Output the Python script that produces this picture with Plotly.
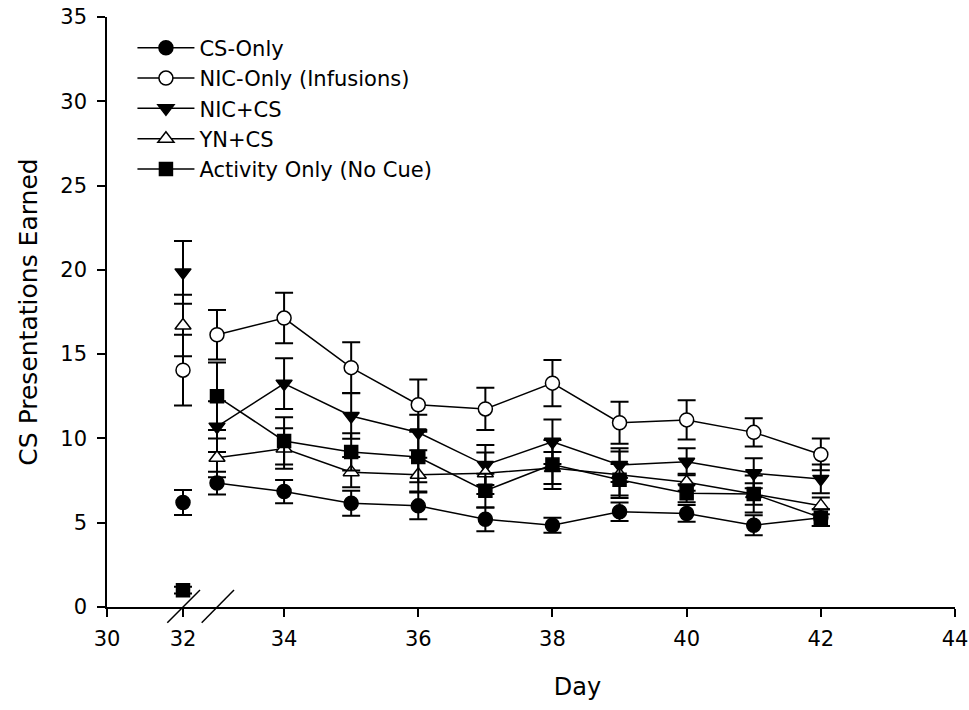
import plotly.graph_objects as go

FONT = "DejaVu Sans, Liberation Sans, Arial, sans-serif"

# ---------------- data ----------------
series_names = ["CS-Only", "NIC-Only (Infusions)", "NIC+CS", "YN+CS", "Activity Only (No Cue)"]

baseline_day = [32]
cs_only_d32 = 6.2
nic_only_d32 = 14.05
nic_cs_d32 = 19.85
yn_cs_d32 = 16.7
activity_d32 = 1.0

cs_only_d32_sem = 0.74
nic_only_d32_sem = 2.1
nic_cs_d32_sem = 1.86
yn_cs_d32_sem = 1.83
activity_d32_sem = 0.2

days = [33, 34, 35, 36, 37, 38, 39, 40, 41, 42]
cs_only = [7.35, 6.85, 6.15, 6.0, 5.2, 4.85, 5.65, 5.55, 4.85, 5.3]
cs_only_sem = [0.68, 0.69, 0.74, 0.79, 0.7, 0.45, 0.55, 0.5, 0.6, 0.5]
nic_only = [16.15, 17.14, 14.2, 12.0, 11.75, 13.28, 10.93, 11.1, 10.36, 9.05]
nic_only_sem = [1.47, 1.5, 1.5, 1.5, 1.25, 1.37, 1.24, 1.17, 0.84, 0.94]
nic_cs = [10.7, 13.25, 11.33, 10.35, 8.42, 9.8, 8.42, 8.62, 7.93, 7.6]
nic_cs_sem = [1.5, 1.5, 1.35, 1.05, 1.19, 1.32, 1.0, 0.8, 0.89, 0.85]
yn_cs = [8.85, 9.4, 8.0, 7.85, 7.93, 8.25, 7.85, 7.4, 6.7, 6.0]
yn_cs_sem = [1.15, 1.2, 0.9, 1.0, 1.23, 0.95, 1.38, 0.5, 1.1, 0.5]
activity = [12.5, 9.85, 9.2, 8.9, 6.9, 8.45, 7.55, 6.75, 6.7, 5.3]
activity_sem = [2.0, 1.4, 1.1, 1.5, 1.0, 1.45, 0.93, 0.53, 0.64, 0.5]

x_left_ticks = [30, 32]
x_right_ticks = [34, 36, 38, 40, 42, 44]
y_ticks = [0, 5, 10, 15, 20, 25, 30, 35]

# ---------------- styling ----------------
d32_vals = [cs_only_d32, nic_only_d32, nic_cs_d32, yn_cs_d32, activity_d32]
d32_sems = [cs_only_d32_sem, nic_only_d32_sem, nic_cs_d32_sem, yn_cs_d32_sem, activity_d32_sem]
main_vals = [cs_only, nic_only, nic_cs, yn_cs, activity]
main_sems = [cs_only_sem, nic_only_sem, nic_cs_sem, yn_cs_sem, activity_sem]

symbols = ["circle", "circle", "triangle-down", "triangle-up", "square"]
fills = ["black", "white", "black", "white", "black"]
sizes = [14, 14, 14, 14, 13]

fig = go.Figure()
for i, name in enumerate(series_names):
    marker = dict(symbol=symbols[i], size=sizes[i], color=fills[i],
                  line=dict(color="black", width=1.5))
    err_common = dict(type="data", visible=True, color="black", thickness=2, width=9)
    fig.add_trace(go.Scatter(
        x=baseline_day, y=[d32_vals[i]],
        error_y=dict(array=[d32_sems[i]], **err_common),
        mode="markers", marker=marker, name=name, legendgroup=name,
        showlegend=False, xaxis="x", yaxis="y", cliponaxis=False))
    fig.add_trace(go.Scatter(
        x=days, y=main_vals[i],
        error_y=dict(array=main_sems[i], **err_common),
        mode="lines+markers", marker=marker, line=dict(color="black", width=1.5),
        name=name, legendgroup=name, showlegend=True,
        xaxis="x2", yaxis="y", cliponaxis=False))

W, H = 969, 710
L, R, T, B = 107, 14, 17, 103
pw = W - L - R
ph = H - T - B
split = 93 / pw  # break position within the plot area

axis_common = dict(showgrid=False, zeroline=False, showline=True, linecolor="black",
                   linewidth=1.5, ticks="outside", ticklen=8, tickwidth=1.5,
                   tickcolor="black", ticklabeloverflow="allow",
                   tickfont=dict(family=FONT, size=21, color="black"))

fig.update_layout(
    width=W, height=H,
    margin=dict(l=L, r=R, t=T, b=B, autoexpand=False),
    paper_bgcolor="white", plot_bgcolor="white",
    font=dict(family=FONT, size=21, color="black"),
    xaxis=dict(domain=[0, split], range=[30, 30 + 93 / 38], tickvals=x_left_ticks,
               ticktext=[str(v) for v in x_left_ticks], anchor="y",
               ticklabelstandoff=4, **axis_common),
    xaxis2=dict(domain=[split, 1], range=[33 - 17 / 67.09, 44], tickvals=x_right_ticks,
                ticktext=[str(v) for v in x_right_ticks], anchor="y",
                ticklabelstandoff=4,
                title=dict(text="Day", font=dict(family=FONT, size=24), standoff=28),
                **axis_common),
    yaxis=dict(range=[0, 35], tickvals=y_ticks, anchor="x", ticklabelstandoff=6,
               title=dict(text="CS Presentations Earned", font=dict(family=FONT, size=25), standoff=16),
               **axis_common),
    legend=dict(x=0.03, y=0.982, xanchor="left", yanchor="top", bgcolor="rgba(0,0,0,0)",
                font=dict(family=FONT, size=21, color="black"), tracegroupgap=0,
                itemwidth=57),
    shapes=[
        dict(type="line", xref="paper", yref="paper", x0=60.3 / pw, y0=-15.7 / ph,
             x1=93 / pw, y1=17 / ph, line=dict(color="black", width=1.5)),
        dict(type="line", xref="paper", yref="paper", x0=94.7 / pw, y0=-15.7 / ph,
             x1=127 / pw, y1=17 / ph, line=dict(color="black", width=1.5)),
    ],
)

fig.write_html("out.html", config={"displayModeBar": False},
               post_script="document.body.style.margin='0px';document.body.style.overflow='hidden';")
